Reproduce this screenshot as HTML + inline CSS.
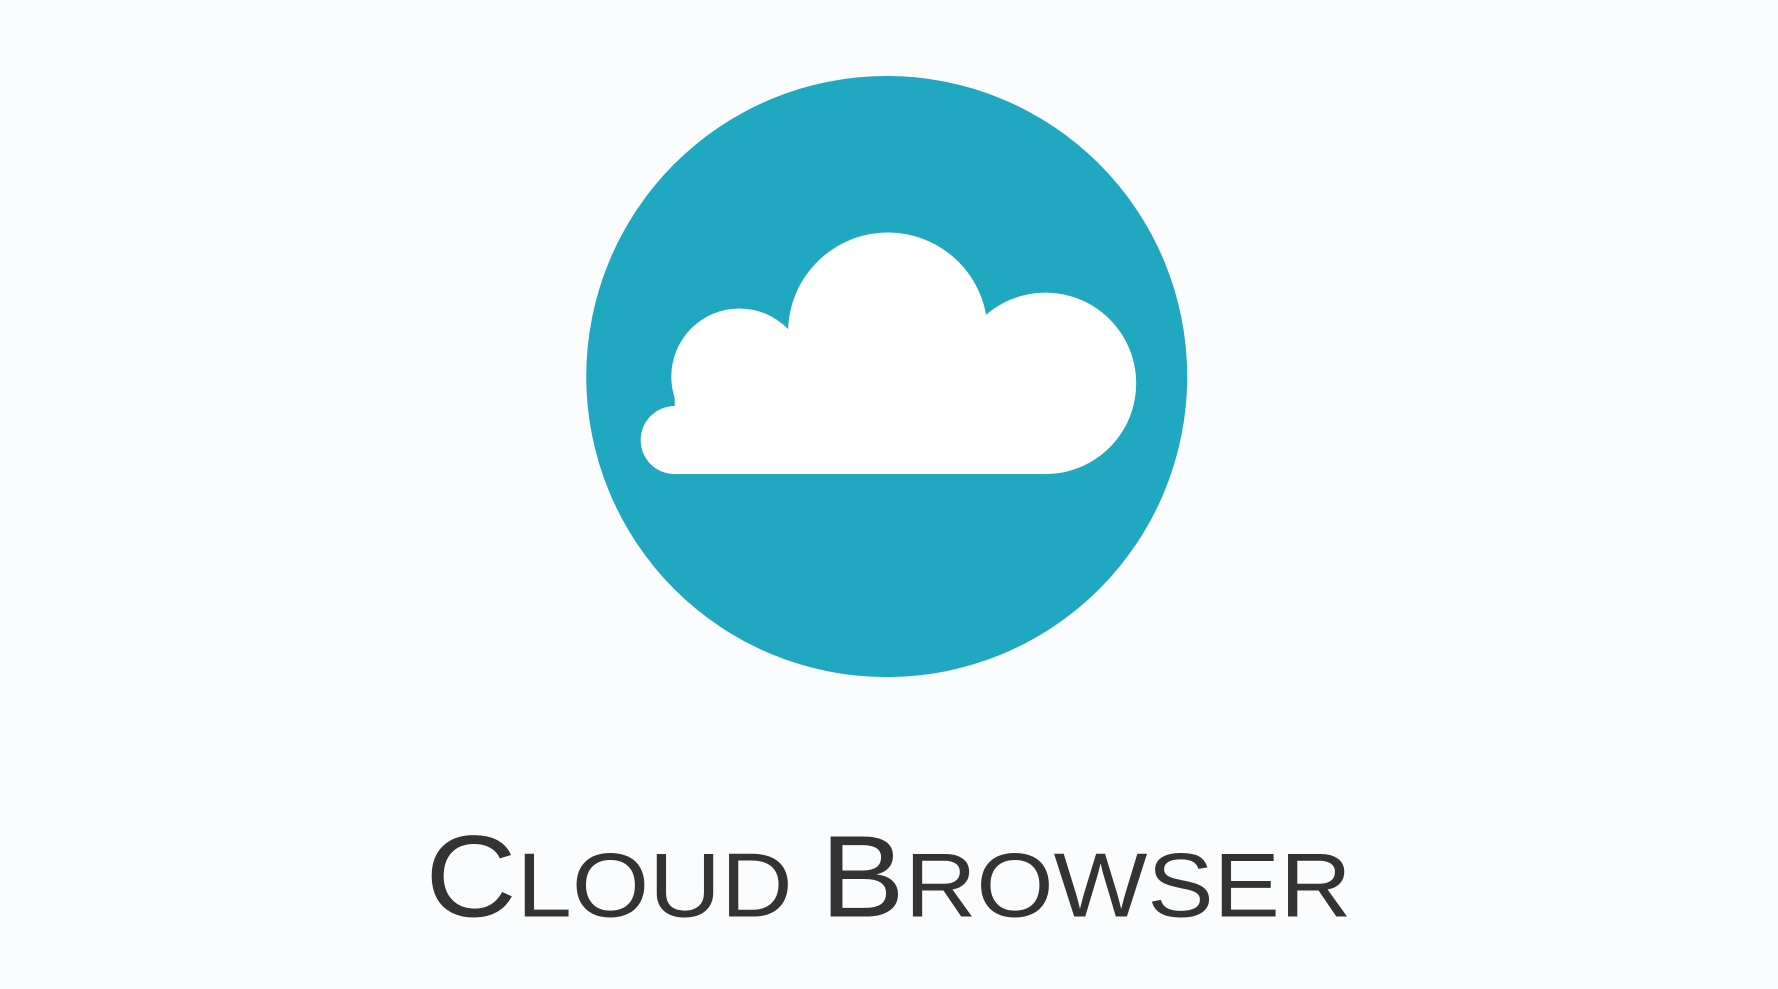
<!DOCTYPE html>
<html>
<head>
<meta charset="utf-8">
<style>
  html,body{margin:0;padding:0;background:#fbfcfd;}
  svg{display:block;}
</style>
</head>
<body>
<svg width="1778" height="989" viewBox="0 0 1568 872" preserveAspectRatio="none" xmlns="http://www.w3.org/2000/svg">
  <rect width="1568" height="872" fill="#fbfcfd"/>
  <circle cx="782" cy="332" r="265" fill="#1fa8bf"/>
  <g fill="#ffffff">
    <circle cx="595" cy="388" r="30"/>
    <circle cx="652" cy="332" r="60"/>
    <circle cx="783" cy="293" r="88"/>
    <circle cx="922" cy="338" r="80"/>
    <rect x="595" y="330" width="327" height="88"/>
  </g>
  <text x="375" y="808" textLength="817" lengthAdjust="spacingAndGlyphs"
        font-family="DejaVu Sans ExtraLight, Liberation Sans, sans-serif" font-weight="200" font-size="102" fill="#333333"><tspan>C</tspan><tspan font-size="80">LOUD </tspan><tspan>B</tspan><tspan font-size="80">ROWSER</tspan></text>
</svg>
</body>
</html>
